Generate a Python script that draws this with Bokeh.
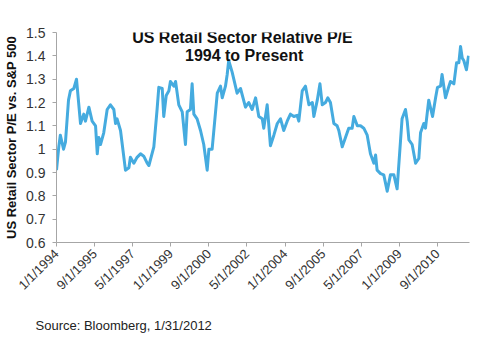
import math
from bokeh.plotting import figure
from bokeh.models import Range1d, FixedTicker, Label, Title
from bokeh.embed import file_html
from bokeh.resources import INLINE

# months since Jan 1994 and relative P/E values
months = [0, 1.2, 2, 3.7, 4.7, 6.3, 7.3, 9.1, 10.5, 12.6, 14.3, 15.2, 17, 18.7, 20.5,
          21.4, 22.2, 23.1, 24.8, 26.6, 28.3, 30.1, 31, 31.8, 33.6, 36.2, 38, 38.8,
          40.6, 42.3, 44.1, 45.8, 47.6, 48.5, 51.1, 52.8, 53.7, 55.5, 56.3, 57.6,
          59, 59.8, 61.6, 62.5, 64.2, 66, 67.7, 68.6, 70.3, 71.2, 72.1, 73.8, 75.6,
          77.3, 79.1, 80, 81.7, 84.4, 86.1, 87, 88.7, 89.6, 90.4, 92.2, 94.8, 96.6,
          99.2, 100.9, 102.7, 104.5, 106.2, 108, 108.8, 110.6, 112.3, 114.1, 115.9,
          117.6, 119.3, 121.1, 122.8, 124.6, 126.3, 127.2, 129, 130.7, 132.5, 134.3,
          135.1, 136.9, 138.3, 139.5, 141.2, 142.4, 143.8, 145.6, 147.3, 148.2, 150,
          151.7, 153.4, 155.2, 156.1, 157.9, 159.6, 161.3, 163.1, 164.8, 166.6,
          167.5, 168.3, 170.1, 171.8, 173.6, 175.3, 177.1, 178.8, 181.4, 183.2,
          184.1, 185, 186.7, 188.5, 190.2, 191.1, 192.8, 193.7, 195.4, 197.4, 199,
          200, 201.6, 202.4, 204.2, 206, 206.8, 208.6, 210, 211.2, 212.1, 213, 213.8,
          215.2, 216.3]
pe_ratio = [0.91, 1.01, 1.06, 1.00, 1.03, 1.21, 1.25, 1.26, 1.30, 1.11, 1.15, 1.12, 1.18, 1.12, 1.10,
            0.98, 1.05, 1.02, 1.07, 1.17, 1.19, 1.17, 1.11, 1.13, 1.08, 0.91, 0.92, 0.965,
            0.94, 0.965, 0.98, 0.97, 0.94, 0.93, 1.01, 1.17, 1.265, 1.26, 1.14, 1.23,
            1.25, 1.29, 1.27, 1.29, 1.19, 1.16, 1.02, 1.16, 1.17, 1.28, 1.15, 1.13, 1.08,
            1.02, 0.91, 1.00, 1.00, 1.24, 1.27, 1.22, 1.27, 1.32, 1.38, 1.33, 1.24, 1.26,
            1.18, 1.20, 1.17, 1.22, 1.14, 1.13, 1.09, 1.19, 1.015, 1.06, 1.11,
            1.13, 1.08, 1.12, 1.15, 1.14, 1.145, 1.12, 1.25, 1.27, 1.19, 1.20,
            1.14, 1.21, 1.28, 1.19, 1.20, 1.22, 1.20, 1.11, 1.10, 1.08, 1.01,
            1.05, 1.09, 1.09, 1.14, 1.10, 1.10, 1.09, 1.06, 0.98, 0.94,
            0.975, 0.91, 0.895, 0.89, 0.82, 0.89, 0.89, 0.83, 1.13, 1.17,
            1.12, 1.04, 1.02, 0.94, 0.96, 1.07, 1.11, 1.09, 1.21, 1.14, 1.22,
            1.265, 1.27, 1.32, 1.22, 1.27, 1.29, 1.28, 1.37, 1.37, 1.44, 1.39, 1.38,
            1.34, 1.40]

x_tick_pos = [0, 20, 40, 60, 80, 100, 120, 140, 160, 180, 200]
x_tick_labels = ["1/1/1994", "9/1/1995", "5/1/1997", "1/1/1999", "9/1/2000", "5/1/2002",
                 "1/1/2004", "9/1/2005", "5/1/2007", "1/1/2009", "9/1/2010"]
y_ticks = [0.6, 0.7, 0.8, 0.9, 1.0, 1.1, 1.2, 1.3, 1.4, 1.5]
y_tick_labels = ["0.6", "0.7", "0.8", "0.9", "1", "1.1", "1.2", "1.3", "1.4", "1.5"]

title_lines = ["US Retail Sector Relative P/E", "1994 to Present"]
y_label = "US Retail Sector P/E vs. S&P 500"
source_text = "Source: Bloomberg, 1/31/2012"

FONT = "Liberation Sans"
LINE_COLOR = "#45ABDF"
AXIS_COLOR = "#A6A6A6"

p = figure(width=480, height=355, output_backend="svg", toolbar_location=None,
           x_range=Range1d(0, 216.8), y_range=Range1d(0.6, 1.5),
           min_border_left=56, min_border_right=11, min_border_top=32, min_border_bottom=113)
p.outline_line_color = None
p.xgrid.visible = False
p.ygrid.visible = False
p.background_fill_color = "white"
p.border_fill_color = "white"

p.line(months, pe_ratio, line_color=LINE_COLOR, line_width=3, line_join="round")

ya = p.yaxis[0]
ya.ticker = FixedTicker(ticks=y_ticks)
ya.major_label_overrides = {t: l for t, l in zip(y_ticks, y_tick_labels)}
ya.axis_line_color = AXIS_COLOR
ya.major_tick_line_color = AXIS_COLOR
ya.major_tick_out = 4
ya.major_tick_in = 0
ya.minor_tick_line_color = None
ya.major_label_text_font = FONT
ya.major_label_text_font_size = "14px"
ya.major_label_text_color = "#333333"
ya.major_label_standoff = 7
ya.axis_label = y_label
ya.axis_label_text_font = FONT
ya.axis_label_text_font_size = "13px"
ya.axis_label_text_font_style = "bold"
ya.axis_label_text_color = "#111111"
ya.axis_label_standoff = 4

xa = p.xaxis[0]
xa.ticker = FixedTicker(ticks=x_tick_pos)
xa.major_label_overrides = {t: l for t, l in zip(x_tick_pos, x_tick_labels)}
xa.axis_line_color = AXIS_COLOR
xa.major_tick_line_color = AXIS_COLOR
xa.major_tick_out = 4
xa.major_tick_in = 0
xa.minor_tick_line_color = None
xa.major_label_orientation = math.pi / 4
xa.major_label_text_font = FONT
xa.major_label_text_font_size = "13px"
xa.major_label_text_color = "#333333"
xa.major_label_standoff = 5

p.add_layout(Label(x=97.6, y=1.479, text=title_lines[0], text_align="center",
                   text_baseline="middle", text_font=FONT, text_font_size="16px",
                   text_font_style="bold", text_color="#111111"))
p.add_layout(Label(x=98.5, y=1.402, text=title_lines[1], text_align="center",
                   text_baseline="middle", text_font=FONT, text_font_size="16px",
                   text_font_style="bold", text_color="#111111"))
p.add_layout(Title(text=source_text, align="left", offset=-21, standoff=30,
                   text_font=FONT, text_font_size="13px", text_font_style="normal",
                   text_color="#222222"), "below")

open("out.html", "w").write(file_html(p, INLINE))
